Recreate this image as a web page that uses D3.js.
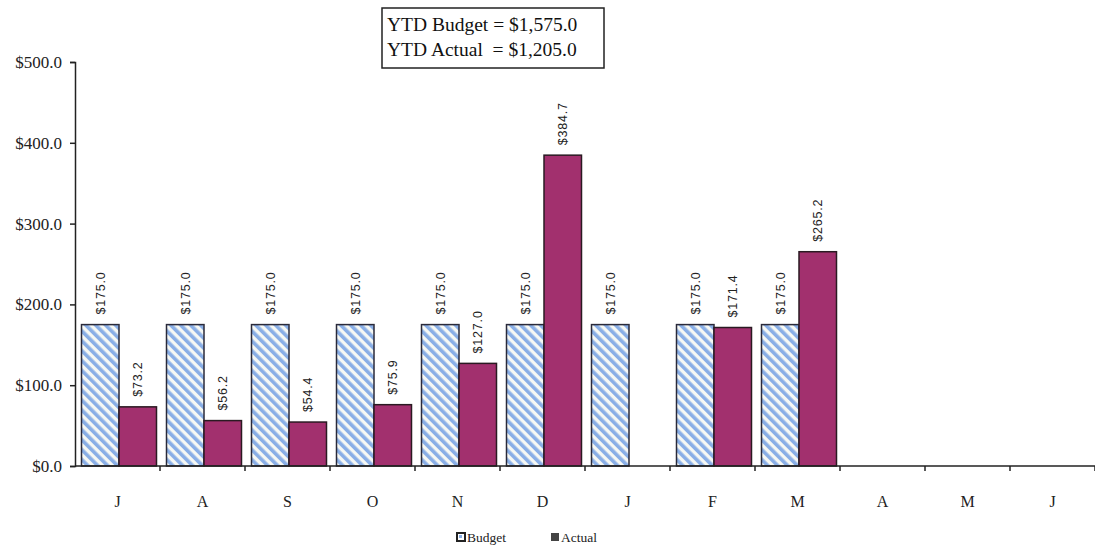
<!DOCTYPE html>
<html>
<head>
<meta charset="utf-8">
<script src="https://cdn.jsdelivr.net/npm/d3@7"></script>
<style>
  html, body { margin: 0; padding: 0; background: #fff; }
  svg { display: block; }
</style>
</head>
<body>
<svg id="chart" width="1095" height="548"></svg>
<script>
// Fiscal year months, July through June
const months = ["J", "A", "S", "O", "N", "D", "J", "F", "M", "A", "M", "J"];
const budget = [175.0, 175.0, 175.0, 175.0, 175.0, 175.0, 175.0, 175.0, 175.0, null, null, null];
const actual = [73.2, 56.2, 54.4, 75.9, 127.0, 384.7, 0, 171.4, 265.2, null, null, null];
const actualLabels = [true, true, true, true, true, true, false, true, true, false, false, false];
const yTicks = [0, 100, 200, 300, 400, 500];
const seriesNames = ["Budget", "Actual"];
const summaryLines = ["YTD Budget = $1,575.0", "YTD Actual  = $1,205.0"];

const svg = d3.select("#chart");
const serif = "'Liberation Serif', 'Times New Roman', serif";
const sans = "'Liberation Sans', Arial, sans-serif";

const keys = months.map((m, i) => i);

const x = d3.scaleBand().domain(keys).range([75, 1095]).padding(0);
const x1 = d3.scaleBand().domain(seriesNames).range([6.5, 81.5]).padding(0);
const y = d3.scaleLinear().domain([0, 500]).range([466, 62]);

// Diagonal stripe pattern for the budget bars
const defs = svg.append("defs");
const pat = defs.append("pattern")
  .attr("id", "stripes")
  .attr("patternUnits", "userSpaceOnUse")
  .attr("width", 7).attr("height", 7)
  .attr("patternTransform", "rotate(-45)");
pat.append("rect").attr("width", 7).attr("height", 7).attr("fill", "#f6f8f4");
pat.append("rect").attr("width", 3.6).attr("height", 7).attr("fill", "#89aee6");

const fmt = v => "$" + d3.format(",.1f")(v);

// Bars
const groups = svg.append("g").selectAll("g")
  .data(keys)
  .join("g")
  .attr("transform", i => `translate(${x(i)},0)`);

groups.filter(i => budget[i] != null).append("rect")
  .attr("x", x1("Budget"))
  .attr("y", i => y(budget[i]))
  .attr("width", x1.bandwidth())
  .attr("height", i => y(0) - y(budget[i]))
  .attr("fill", "url(#stripes)")
  .attr("stroke", "#2a2a3a")
  .attr("stroke-width", 1.5);

groups.filter(i => actual[i] != null).append("rect")
  .attr("x", x1("Actual"))
  .attr("y", i => y(actual[i]))
  .attr("width", x1.bandwidth())
  .attr("height", i => y(0) - y(actual[i]))
  .attr("fill", "#a2306e")
  .attr("stroke", "#2a1a22")
  .attr("stroke-width", 1.5);

// Value labels, rotated
function valueLabel(sel, series, values) {
  sel.append("text")
    .attr("transform", i => `translate(${x1(series) + x1.bandwidth() / 2 + 4.5},${y(values[i]) - 10}) rotate(-90)`)
    .attr("font-family", sans)
    .attr("font-size", 12.5)
    .attr("letter-spacing", 0.8)
    .attr("fill", "#222")
    .text(i => fmt(values[i]));
}
valueLabel(groups.filter(i => budget[i] != null), "Budget", budget);
valueLabel(groups.filter(i => actual[i] != null && actualLabels[i]), "Actual", actual);

// Y axis
const yAxis = svg.append("g")
  .attr("transform", "translate(75,0)")
  .call(d3.axisLeft(y).tickValues(yTicks).tickSize(5).tickPadding(8).tickFormat(fmt));
yAxis.select(".domain").attr("stroke", "#222").attr("stroke-width", 1.5);
yAxis.selectAll(".tick line").attr("stroke", "#222").attr("stroke-width", 1.5);
yAxis.selectAll("text").attr("font-family", serif).attr("font-size", 17).attr("fill", "#222");

// X axis: ticks between categories
const xAxisG = svg.append("g").attr("transform", `translate(0,${y(0)})`);
xAxisG.append("line")
  .attr("x1", 75).attr("x2", 1095)
  .attr("stroke", "#222").attr("stroke-width", 1.5);
xAxisG.selectAll("line.tick")
  .data(keys.slice(1).concat([12]))
  .join("line")
  .attr("class", "tick")
  .attr("x1", i => 75 + i * x.bandwidth())
  .attr("x2", i => 75 + i * x.bandwidth())
  .attr("y1", 0).attr("y2", 5)
  .attr("stroke", "#222").attr("stroke-width", 1.5);
xAxisG.selectAll("text")
  .data(keys)
  .join("text")
  .attr("x", i => x(i) + x.bandwidth() / 2)
  .attr("y", 41)
  .attr("text-anchor", "middle")
  .attr("font-family", serif)
  .attr("font-size", 16)
  .attr("fill", "#222")
  .text(i => months[i]);

// Summary box
const box = svg.append("g");
box.append("rect")
  .attr("x", 382).attr("y", 8).attr("width", 222).attr("height", 60)
  .attr("fill", "#fff").attr("stroke", "#222").attr("stroke-width", 1.5);
box.selectAll("text")
  .data(summaryLines)
  .join("text")
  .attr("x", 387)
  .attr("y", (d, i) => 31 + i * 25)
  .attr("font-family", serif)
  .attr("font-size", 19.5)
  .attr("fill", "#111")
  .attr("xml:space", "preserve")
  .style("white-space", "pre")
  .text(d => d);

// Legend
const legend = svg.append("g");
const legendPos = [457, 551];
seriesNames.forEach((name, i) => {
  const g = legend.append("g").attr("transform", `translate(${legendPos[i]},533)`);
  if (i === 0) {
    g.append("rect").attr("width", 8).attr("height", 8)
      .attr("fill", "#fff").attr("stroke", "#222").attr("stroke-width", 2);
    g.append("rect").attr("x", 2).attr("y", 2).attr("width", 3).attr("height", 3).attr("fill", "#89aee6");
  } else {
    g.append("rect").attr("width", 8).attr("height", 8).attr("fill", "#444");
  }
  g.append("text")
    .attr("x", 10).attr("y", 9)
    .attr("font-family", serif)
    .attr("font-size", 13.5)
    .attr("fill", "#222")
    .text(name);
});
</script>
</body>
</html>
